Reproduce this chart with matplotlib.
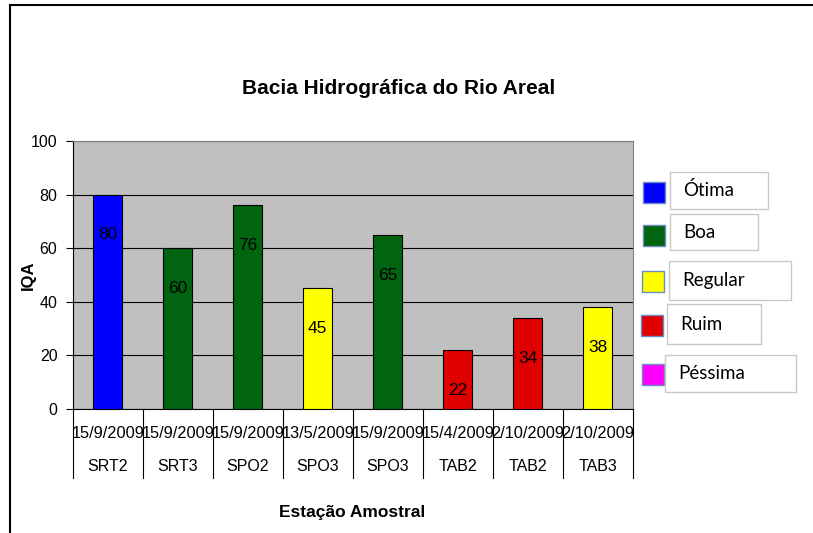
import matplotlib
matplotlib.use("Agg")
import matplotlib.pyplot as plt
from matplotlib.patches import Rectangle

plt.rcParams['font.family'] = ['Liberation Sans', 'DejaVu Sans']

# data
stations = ['SRT2', 'SRT3', 'SPO2', 'SPO3', 'SPO3', 'TAB2', 'TAB2', 'TAB3']
dates = ['15/9/2009', '15/9/2009', '15/9/2009', '13/5/2009', '15/9/2009',
         '15/4/2009', '2/10/2009', '2/10/2009']
iqa = [80, 60, 76, 45, 65, 22, 34, 38]
classes = ['Ótima', 'Boa', 'Boa', 'Regular', 'Boa', 'Ruim', 'Ruim', 'Regular']

legend_labels = ['Ótima', 'Boa', 'Regular', 'Ruim', 'Péssima']
legend_colors = ['#0000FF', '#006411', '#FFFF00', '#E00000', '#FF00FF']
class_color = dict(zip(legend_labels, legend_colors))

W, H = 813, 533
fig = plt.figure(figsize=(W / 100, H / 100), dpi=100)
fig.patch.set_facecolor('white')

# outer chart border
fig.add_artist(Rectangle((10 / W, -0.1), 1.2, 1 - 5 / H + 0.1, transform=fig.transFigure,
                         fill=False, edgecolor='black', linewidth=1.5))

ax = fig.add_axes([72.7 / W, 1 - 409 / H, 560 / W, 268 / H])
ax.set_facecolor('#C0C0C0')

x = range(len(iqa))
ax.bar(x, iqa, width=0.41, color=[class_color[c] for c in classes],
       edgecolor='black', linewidth=0.8, zorder=3)
for i, v in enumerate(iqa):
    ax.text(i, v - 15, str(v), ha='center', va='center', fontsize=12.5, zorder=4)

ax.set_xlim(-0.5, len(iqa) - 0.5)
ax.set_ylim(0, 100)
ax.set_yticks([0, 20, 40, 60, 80, 100])
ax.yaxis.grid(True, color='black', linewidth=0.8, zorder=1)
ax.tick_params(axis='y', direction='out', length=5, labelsize=11.5, pad=6)
ax.set_xticks([])

for s in ['top', 'right']:
    ax.spines[s].set_color('#808080')
ax.spines['left'].set_color('black')
ax.spines['bottom'].set_color('black')

# category separators and two-level labels
for b in range(len(iqa) + 1):
    ax.plot([b - 0.5, b - 0.5], [0, -0.257], transform=ax.get_xaxis_transform(),
            color='black', linewidth=0.8, clip_on=False)
for i in x:
    ax.text(i, -0.09, dates[i], ha='center', va='center', fontsize=11.8,
            transform=ax.get_xaxis_transform())
    ax.text(i, -0.213, stations[i], ha='center', va='center', fontsize=11.5,
            transform=ax.get_xaxis_transform())

fig.text(399 / W, 1 - 89 / H, 'Bacia Hidrográfica do Rio Areal', ha='center', va='center',
         fontsize=15, fontweight='bold')
fig.text(28 / W, 1 - 275 / H, 'IQA', ha='center', va='center', rotation=90,
         fontsize=12, fontweight='bold')
fig.text(352 / W, 1 - 512 / H, 'Estação Amostral', ha='center', va='center',
         fontsize=12.5, fontweight='bold')

# legend (Excel-style separate boxes)
sq_x = [643, 643, 642, 641, 642]
sq_y = [182, 225, 271, 315, 364]
box_x = [670, 670, 669, 667, 665]
box_y = [172, 214, 261, 304, 355]
box_w = [98, 88, 122, 94, 131]
box_h = [37, 36, 39, 40, 37]
for i, (lab, col) in enumerate(zip(legend_labels, legend_colors)):
    fig.add_artist(Rectangle((sq_x[i] / W, 1 - (sq_y[i] + 21) / H), 22 / W, 21 / H,
                             transform=fig.transFigure, facecolor=col,
                             edgecolor='#6A8CC0', linewidth=1))
    fig.add_artist(Rectangle((box_x[i] / W, 1 - (box_y[i] + box_h[i]) / H),
                             box_w[i] / W, box_h[i] / H, transform=fig.transFigure,
                             facecolor='white', edgecolor='#C8C8C8', linewidth=1))
    fig.text((box_x[i] + 13) / W, 1 - (box_y[i] + box_h[i] / 2) / H, lab,
             ha='left', va='center', fontsize=13.5, family=['Lato', 'DejaVu Sans'])

fig.savefig('out.png', dpi=100)
